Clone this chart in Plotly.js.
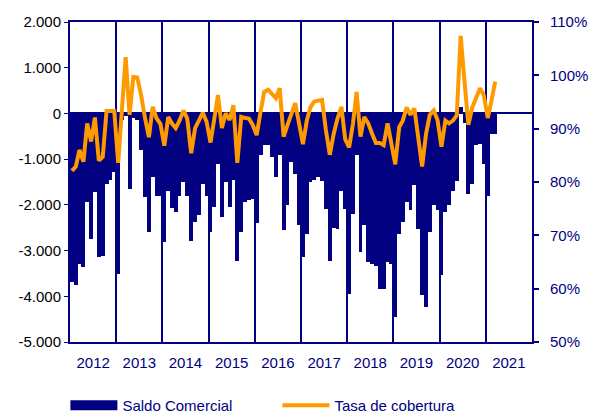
<!DOCTYPE html>
<html>
<head>
<meta charset="utf-8">
<script src="https://cdn.plot.ly/plotly-3.0.1.min.js"></script>
<style>html,body{margin:0;padding:0;background:#fff;}#chart{width:592px;height:416px;}</style>
</head>
<body>
<div id="chart"></div>
<script>
// Years covered and month count
var startYear = 2012;
var nMonths = 111; // Jan 2012 .. Mar 2021
var yearLabels = ["2012","2013","2014","2015","2016","2017","2018","2019","2020","2021"];

// Saldo Comercial (millones €), monthly
var saldo = [
  -3690, -3760, -3290, -3360, -1940, -2740, -1720, -3140, -3110, -1540, -1460, -1280,
  -3510, -150, -50, -1660, -110, -150, -810, -1830, -2600, -1390, -1800, -1800,
  -2815, -1690, -2070, -2160, -1800, -1500, -1800, -2780, -2380, -2230, -1540, -1800,
  -2600, -2040, -1100, -2270, -1500, -2040, -1460, -3220, -2600, -1940, -1900, -1870,
  -2400, -900, -700, -700, -955, -1390, -900, -2560, -2000, -1065, -1320, -2450,
  -3140, -2630, -1500, -1450, -1400, -1470, -2085, -3220, -2500, -2530, -1690, -2080,
  -3950, -2190, -900, -3030, -2450, -3250, -3300, -3330, -3840, -3840, -3250, -3300,
  -4460, -2630, -2380, -1940, -2120, -1575, -2520, -3980, -4240, -2590, -2000, -2120,
  -3540, -2160, -2010, -1690, -1470, 150, -200, -1760, -1540, -700, -660, -1100,
  -1800, -450, -450
];

// Tasa de cobertura (%), monthly
var cobertura = [
  82.1, 82.9, 86.0, 83.8, 91.0, 87.6, 92.1, 84.0, 84.7, 93.3, 93.3, 93.3,
  83.6, 93.0, 103.4, 92.6, 99.7, 99.6, 96.3, 92.0, 88.4, 94.1, 91.9, 90.9,
  86.8, 92.2, 91.0, 90.1, 91.5, 93.4, 91.9, 85.4, 90.1, 91.5, 93.0, 91.3,
  87.4, 92.0, 96.3, 90.1, 92.9, 91.6, 94.4, 83.6, 92.2, 92.0, 91.9, 90.7,
  88.8, 93.2, 96.9, 97.3, 96.5, 95.7, 97.6, 88.5, 90.7, 93.0, 94.8, 91.0,
  87.1, 91.6, 94.0, 95.1, 95.2, 95.4, 89.8, 85.1, 89.0, 91.9, 94.1, 88.0,
  86.5, 91.0, 96.9, 88.5, 92.2, 91.0, 89.1, 87.3, 87.3, 86.9, 91.0, 87.0,
  83.3, 90.3, 91.5, 94.0, 92.6, 93.8, 88.0, 82.9, 89.0, 92.6, 93.4, 91.6,
  86.6, 91.5, 91.0, 91.5, 92.5, 107.4, 99.0, 90.7, 94.0, 96.0, 97.6, 96.3,
  92.0, 95.4, 98.8
];

// Axis tick labels
var leftTickVals = [-5000, -4000, -3000, -2000, -1000, 0, 1000, 2000];
var leftTickText = ["-5.000", "-4.000", "-3.000", "-2.000", "-1.000", "0", "1.000", "2.000"];
var rightTickVals = [50, 60, 70, 80, 90, 100, 110];
var rightTickText = ["50%", "60%", "70%", "80%", "90%", "100%", "110%"];

// Month dates (mid-month)
var months = [];
for (var i = 0; i < nMonths; i++) {
  var y = startYear + Math.floor(i / 12);
  var m = (i % 12) + 1;
  months.push(y + "-" + (m < 10 ? "0" + m : m) + "-16");
}
var yearMid = yearLabels.map(function (y) { return y + "-07-02"; });

var NAVY = "#000080";
var ORANGE = "#FF9900";
var FONT = "Liberation Sans, Arial, sans-serif";
var monthMs = 31 * 24 * 3600 * 1000;

var traces = [
  {
    type: "bar", name: "Saldo Comercial", x: months, y: saldo,
    width: months.map(function () { return monthMs; }),
    marker: { color: NAVY, line: { width: 0 } },
    showlegend: false, hoverinfo: "x+y"
  },
  {
    type: "scatter", mode: "lines", name: "Saldo Comercial",
    x: [null], y: [null],
    line: { color: NAVY, width: 10 }, showlegend: true, hoverinfo: "skip"
  },
  {
    type: "scatter", mode: "lines", name: "Tasa de cobertura", x: months, y: cobertura,
    yaxis: "y2", line: { color: ORANGE, width: 4 }, hoverinfo: "x+y"
  }
];

var layout = {
  width: 592, height: 416,
  margin: { l: 70, r: 60, t: 22, b: 74, pad: 0, autoexpand: false },
  paper_bgcolor: "#ffffff", plot_bgcolor: "#ffffff",
  font: { family: FONT, size: 15, color: NAVY },
  bargap: 0,
  showlegend: true,
  legend: {
    orientation: "h", x: -0.01, xanchor: "left", y: -0.147, yanchor: "top",
    font: { family: FONT, size: 15, color: NAVY },
    itemwidth: 47,
    entrywidth: 150, entrywidthmode: "pixels", traceorder: "normal",
    bgcolor: "rgba(0,0,0,0)"
  },
  xaxis: {
    type: "date", range: ["2012-01-01", "2022-01-01"],
    tickmode: "array", tickvals: yearMid, ticktext: yearLabels,
    showgrid: false, ticks: "", ticklabelstandoff: 6,
    tickfont: { family: FONT, size: 15, color: NAVY },
    showline: true, linecolor: NAVY, linewidth: 2, mirror: true,
    zeroline: false,
    minor: { dtick: "M12", tick0: "2012-01-01", showgrid: true, gridcolor: NAVY, gridwidth: 2, ticks: "" }
  },
  yaxis: {
    range: [-5000, 2000], tickmode: "array", tickvals: leftTickVals, ticktext: leftTickText,
    showgrid: false, zeroline: true, zerolinecolor: NAVY, zerolinewidth: 2,
    showline: true, linecolor: NAVY, linewidth: 2,
    ticks: "outside", ticklen: 4, tickcolor: NAVY, tickwidth: 1,
    tickfont: { family: FONT, size: 15, color: "#000000" }
  },
  yaxis2: {
    overlaying: "y", side: "right", range: [50, 110],
    tickmode: "array", tickvals: rightTickVals, ticktext: rightTickText,
    showgrid: false, zeroline: false,
    showline: true, linecolor: NAVY, linewidth: 2,
    ticks: "outside", ticklen: 5, tickcolor: NAVY, tickwidth: 2,
    ticklabelstandoff: 8,
    tickfont: { family: FONT, size: 15, color: NAVY }
  }
};

Plotly.newPlot("chart", traces, layout, { staticPlot: true, displayModeBar: false });
</script>
</body>
</html>
